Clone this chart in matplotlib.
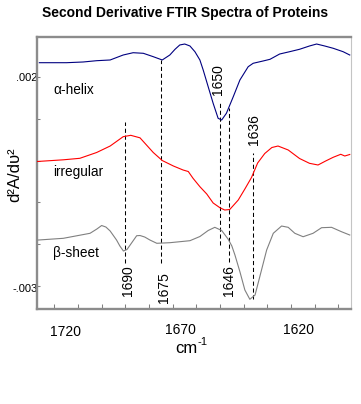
import matplotlib
matplotlib.use("Agg")
import matplotlib.pyplot as plt
from matplotlib.transforms import ScaledTranslation

plt.rcParams['font.family'] = ['Liberation Sans', 'DejaVu Sans']

# ---- data (y in units of 0.001) ----
alpha_w = [1726.3, 1714.8, 1707.8, 1702.1, 1696.4, 1690.9, 1686.7, 1682.4, 1678.2, 1674.4,
           1671.2, 1669.0, 1667.0, 1664.9, 1662.7, 1660.6, 1658.5, 1657.1, 1655.0, 1652.9,
           1650.8, 1649.3, 1647.3, 1644.4, 1641.6, 1638.1, 1636.0, 1631.8, 1628.9, 1624.8,
           1620.6, 1616.4, 1612.2, 1609.2, 1605.8, 1602.2, 1598.0, 1595.2]
alpha_y = [2.342, 2.342, 2.359, 2.390, 2.407, 2.526, 2.581, 2.567, 2.486, 2.407,
           2.526, 2.663, 2.766, 2.789, 2.742, 2.605, 2.407, 2.167, 1.768, 1.371,
           1.012, 0.971, 1.132, 1.529, 1.928, 2.246, 2.328, 2.383, 2.423, 2.550,
           2.605, 2.663, 2.742, 2.789, 2.742, 2.687, 2.605, 2.526]

irr_w = [1727.4, 1716.2, 1709.2, 1702.1, 1696.4, 1690.9, 1687.7, 1683.8, 1678.2, 1674.4,
         1669.7, 1665.6, 1663.4, 1661.4, 1658.5, 1655.6, 1652.9, 1650.0, 1648.0, 1645.9,
         1642.3, 1639.5, 1636.7, 1634.1, 1631.1, 1628.1, 1625.5, 1621.2, 1616.4, 1612.2,
         1608.6, 1605.4, 1602.2, 1599.0, 1597.3, 1595.2]
irr_y = [-0.022, 0.019, 0.055, 0.194, 0.349, 0.572, 0.605, 0.545, 0.194, 0.002,
         -0.129, -0.225, -0.261, -0.423, -0.624, -0.799, -1.014, -1.129, -1.182, -1.170,
         -0.943, -0.679, -0.404, -0.057, 0.170, 0.313, 0.349, 0.254, 0.050, -0.065,
         -0.105, -0.010, 0.079, 0.151, 0.110, 0.146]

beta_w = [1726.8, 1716.2, 1704.9, 1702.0, 1700.0, 1698.2, 1696.4, 1693.7, 1692.3, 1690.8,
          1689.3, 1688.1, 1685.2, 1683.8, 1681.8, 1679.6, 1676.7, 1671.2, 1662.7, 1658.5,
          1655.0, 1652.2, 1649.3, 1646.6, 1645.0, 1643.7, 1641.6, 1639.5, 1637.4, 1635.2,
          1633.2, 1630.3, 1627.5, 1624.0, 1621.2, 1618.4, 1614.9, 1610.7, 1607.1, 1602.9,
          1598.7, 1595.2]
beta_y = [-1.900, -1.859, -1.739, -1.636, -1.553, -1.589, -1.684, -1.900, -2.043, -2.163,
          -2.127, -2.031, -1.797, -1.792, -1.828, -1.900, -1.978, -1.964, -1.916, -1.816,
          -1.672, -1.596, -1.672, -1.876, -2.043, -2.258, -2.658, -3.096, -3.318, -3.215,
          -2.778, -2.139, -1.739, -1.565, -1.596, -1.739, -1.821, -1.739, -1.605, -1.596,
          -1.701, -1.780]

series_names = ['\u03b1-helix', 'irregular', '\u03b2-sheet']

peak_labels = ['1690', '1675', '1650', '1646', '1636']
peak_pos = [1690, 1675, 1650, 1646, 1636]
peak_top = [0.923, 2.407, 1.426, 1.258, 0.182]
peak_bottom = [-2.45, -2.45, -2.019, -2.426, -3.311]

xtick_vals = list(range(1600, 1721, 10))
xtick_labels = {1720: '1720', 1670: '1670', 1620: '1620'}
ytick_vals = [2, 1, 0, -1, -2, -3]
ytick_labels = ['.002', '', '', '', '', '-.003']

# ---- figure ----
fig = plt.figure(figsize=(3.61, 4.04), dpi=100)
W, H = 361, 404
L, R, T, B = 37, 350.7, 37.2, 308.5
ax = fig.add_axes([L / W, 1 - B / H, (R - L) / W, (B - T) / H])
ax.set_xlim(1727.3, 1594.8)
ax.set_ylim(-3.538, 2.952)

ax.plot(alpha_w, alpha_y, color='#000080', lw=0.8, zorder=3)
ax.plot(irr_w, irr_y, color='#ff0000', lw=0.8, zorder=3)
ax.plot(beta_w, beta_y, color='#808080', lw=0.8, zorder=3)

for p, t0, b0 in zip(peak_pos, peak_top, peak_bottom):
    ax.plot([p, p], [b0, t0], color='black', lw=0.75, dashes=(4, 2.6), zorder=2)

def px(dx, dy=0):
    return ScaledTranslation(dx / 100, dy / 100, fig.dpi_scale_trans)

# peak labels: (y, va, dx)
peak_label_pos = {'1690': (-2.498, 'top', 3), '1675': (-2.658, 'top', 3),
                  '1646': (-2.498, 'top', 0), '1650': (1.569, 'bottom', -2),
                  '1636': (0.373, 'bottom', 1)}
for lab, p in zip(peak_labels, peak_pos):
    yy, va, dx = peak_label_pos[lab]
    ax.text(p, yy, lab, rotation=90, ha='center', va=va, fontsize=10,
            transform=ax.transData + px(dx), zorder=4)

# series labels
name_y = [1.605, -0.361, -2.299]
for name, yy in zip(series_names, name_y):
    ax.text(1720.5, yy, name, ha='left', va='baseline', fontsize=9.8, zorder=4)

# ticks
ax.set_xticks(xtick_vals)
ax.set_xticklabels([xtick_labels.get(v, '') for v in xtick_vals], fontsize=10)
ax.set_yticks(ytick_vals)
ax.set_yticklabels(ytick_labels, fontsize=8)
ax.tick_params(axis='x', direction='in', length=3.6, width=0.75, color='#808080', pad=10.2)
ax.tick_params(axis='y', direction='in', length=2.4, width=0.75, color='#808080', pad=-0.6)
xoffs = {'1720': (10.8, -2), '1670': (7.6, 0), '1620': (7.7, 0)}
for lbl in ax.get_xticklabels():
    t = lbl.get_text()
    if t in xoffs:
        lbl.set_transform(lbl.get_transform() + px(*xoffs[t]))
for lbl in ax.get_yticklabels():
    if lbl.get_text() == '-.003':
        lbl.set_transform(lbl.get_transform() + px(0, -2))

for s in ['left', 'top', 'bottom']:
    ax.spines[s].set_color('#8c8c8c')
    ax.spines[s].set_linewidth(1.7)
ax.spines['right'].set_color('#c4c4c4')
ax.spines['right'].set_linewidth(0.8)

fig.text(185 / W, 1 - 16.7 / H, 'Second Derivative FTIR Spectra of Proteins',
         ha='center', va='baseline', fontsize=10, fontweight='bold')
fig.text(15 / W, 1 - 175 / H, 'd\u00b2A/d\u03c5\u00b2', rotation=90,
         ha='center', va='center', fontsize=12)
fig.text(197 / W, 1 - 353 / H, 'cm', ha='right', va='baseline', fontsize=12)
fig.text(197.5 / W, 1 - 345 / H, '-1', ha='left', va='baseline', fontsize=8)

fig.savefig('out.png', dpi=100)
